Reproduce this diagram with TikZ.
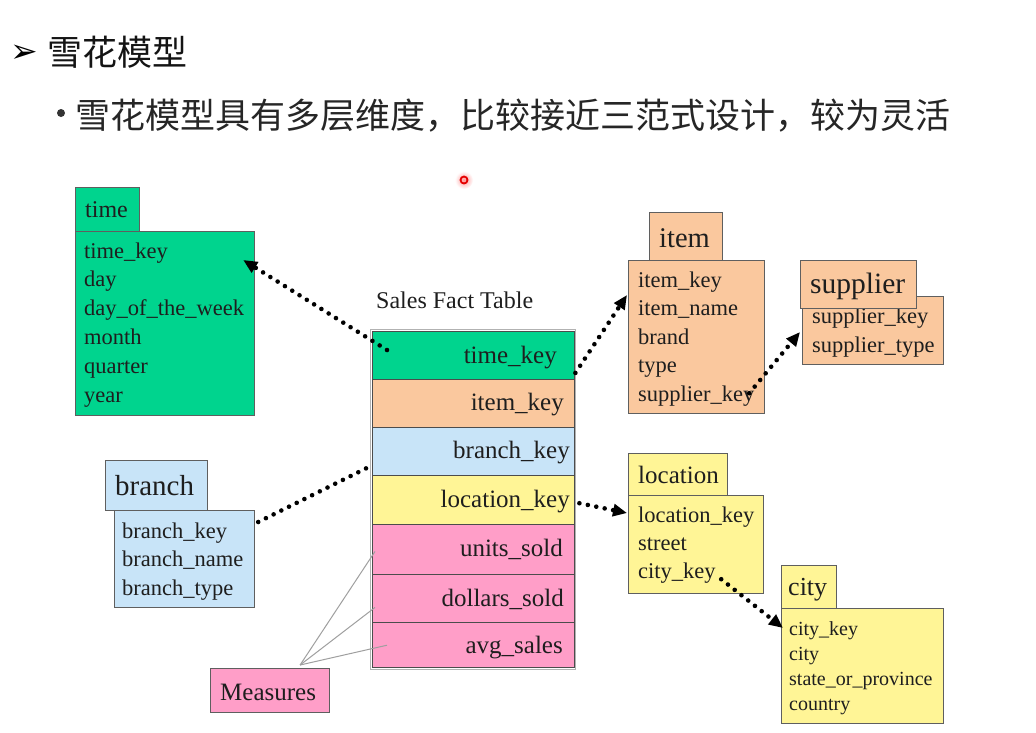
\documentclass[tikz,border=0pt]{standalone}
\usepackage{fontspec}
\setmainfont{Liberation Serif}
\newfontfamily\cjkfont{Noto Sans CJK SC}
\newfontfamily\symfont{DejaVu Sans}
\usetikzlibrary{arrows.meta}
\definecolor{grn}{RGB}{0,212,142}
\definecolor{peach}{RGB}{250,200,158}
\definecolor{lblue}{RGB}{200,228,248}
\definecolor{yel}{RGB}{255,245,150}
\definecolor{pnk}{RGB}{255,158,200}
\definecolor{bord}{RGB}{95,95,95}
\definecolor{txt}{RGB}{30,30,30}
\begin{document}
\begin{tikzpicture}[x=1pt,y=-1pt,
  tb/.style={draw=bord, line width=1.2pt, inner sep=0pt, anchor=north west},
  rowbox/.style={draw=bord!80!black, line width=1.4pt, inner sep=0pt, anchor=north west, minimum width=202pt},
  fld/.style={font={\fontsize{22.5}{27}\selectfont}, anchor=base west, inner sep=0pt, text=txt},
  sfld/.style={font={\fontsize{20}{24}\selectfont}, anchor=base west, inner sep=0pt, text=txt},
  hdr/.style={anchor=base west, inner sep=0pt, text=txt},
  ftx/.style={font={\fontsize{25}{30}\selectfont}, anchor=base east, inner sep=0pt, text=txt},
  dotarr/.style={line width=4.6pt, dash pattern=on 0pt off 8.6pt, line cap=round, -{Triangle[length=14pt,width=12pt]}},
  dotline/.style={line width=4.6pt, dash pattern=on 0pt off 8.6pt, line cap=round},
  meas/.style={draw=gray!75, line width=1pt}]
\useasboundingbox (0,0) rectangle (1036,732);
\fill[white] (0,0) rectangle (1036,732);

% title
\node[anchor=base west, inner sep=0pt, font={\symfont\fontsize{33}{33}\selectfont}] (arr) at (10,62) {➢};
\node[anchor=base west, inner sep=0pt, font={\cjkfont\fontsize{35}{35}\selectfont}, text=black!92] (title) at (47,65) {雪花模型};
\node[circle, fill=black!80, minimum size=8pt, inner sep=0pt] (bul) at (61,113) {};
\node[anchor=base west, inner sep=0pt, font={\cjkfont\fontsize{35}{35}\selectfont}, text=black!85] (sub) at (75,128) {雪花模型具有多层维度，比较接近三范式设计，较为灵活};

% cursor mark
\shade[inner color=red!40, outer color=white] (464,180) circle (9pt);
\node[circle, draw=red!90!black, line width=1.8pt, minimum size=7pt, inner sep=0pt] (cursor) at (464,180) {};

% time
\node[tb, fill=grn, minimum width=179pt, minimum height=184pt] (timeB) at (75,231) {};
\node[tb, fill=grn, minimum width=64pt, minimum height=44pt] (timeH) at (75,187) {};
\node[hdr, font={\fontsize{24}{24}\selectfont}] (timeT) at (85,217) {time};
\foreach \t [count=\i] in {time\_key,day,day\_of\_the\_week,month,quarter,year}
  \node[fld] (time-\i) at (84,{258+28.9*(\i-1)}) {\t};

% item
\node[tb, fill=peach, minimum width=136pt, minimum height=153pt] (itemB) at (628,260) {};
\node[tb, fill=peach, minimum width=73pt, minimum height=48pt] (itemH) at (649,212) {};
\node[hdr, font={\fontsize{28.5}{28.5}\selectfont}] (itemT) at (659,247) {item};
\foreach \t [count=\i] in {item\_key,item\_name,brand,type,supplier\_key}
  \node[fld] (item-\i) at (638,{287+28.5*(\i-1)}) {\t};

% supplier
\node[tb, fill=peach, minimum width=141pt, minimum height=68pt] (supB) at (802,296) {};
\node[fld] (sup-1) at (812,323) {supplier\_key};
\node[fld] (sup-2) at (812,352) {supplier\_type};
\node[tb, fill=peach, minimum width=116pt, minimum height=48pt] (supH) at (800,260) {};
\node[hdr, font={\fontsize{29.5}{29.5}\selectfont}] (supT) at (810,293) {supplier};

% location
\node[tb, fill=yel, minimum width=135pt, minimum height=98pt] (locB) at (628,495) {};
\node[tb, fill=yel, minimum width=99pt, minimum height=42pt] (locH) at (628,453) {};
\node[hdr, font={\fontsize{25}{25}\selectfont}] (locT) at (638,483) {location};
\foreach \t [count=\i] in {location\_key,street,city\_key}
  \node[fld] (loc-\i) at (638,{522+28*(\i-1)}) {\t};

% city
\node[tb, fill=yel, minimum width=162pt, minimum height=115pt] (cityB) at (781,608) {};
\node[tb, fill=yel, minimum width=55pt, minimum height=43pt] (cityH) at (781,565) {};
\node[hdr, font={\fontsize{26}{26}\selectfont}] (cityT) at (788,595) {city};
\foreach \t [count=\i] in {city\_key,city,state\_or\_province,country}
  \node[sfld] (city-\i) at (789,{635+25*(\i-1)}) {\t};

% branch
\node[tb, fill=lblue, minimum width=140pt, minimum height=97pt] (brB) at (114,510) {};
\node[tb, fill=lblue, minimum width=102pt, minimum height=50pt] (brH) at (105,460) {};
\node[hdr, font={\fontsize{29}{29}\selectfont}] (brT) at (115,495) {branch};
\foreach \t [count=\i] in {branch\_key,branch\_name,branch\_type}
  \node[fld] (br-\i) at (122,{538+28.5*(\i-1)}) {\t};

% measures
\node[tb, fill=pnk, minimum width=119pt, minimum height=44pt] (meas) at (210,668) {};
\node[hdr, font={\fontsize{25}{25}\selectfont}] (measT) at (220,700) {Measures};

% fact table
\node[hdr, font={\fontsize{24}{24}\selectfont}] (factT) at (376,308) {Sales Fact Table};
\node[tb, fill=white, draw=gray!60, minimum width=205pt, minimum height=340pt] (fact) at (370,329) {};
\node[rowbox, fill=grn, minimum height=47.5pt] (r1) at (372,331) {};
\node[rowbox, fill=peach, minimum height=48pt] (r2) at (372,378.5) {};
\node[rowbox, fill=lblue, minimum height=48.5pt] (r3) at (372,426.5) {};
\node[rowbox, fill=yel, minimum height=49pt] (r4) at (372,475) {};
\node[rowbox, fill=pnk, minimum height=49.5pt] (r5) at (372,524) {};
\node[rowbox, fill=pnk, minimum height=48.5pt] (r6) at (372,573.5) {};
\node[rowbox, fill=pnk, minimum height=45pt] (r7) at (372,622) {};
\node[ftx] (f1) at (557,363) {time\_key};
\node[ftx] (f2) at (564,410.5) {item\_key};
\node[ftx] (f3) at (570,458.5) {branch\_key};
\node[ftx] (f4) at (570,507.5) {location\_key};
\node[ftx] (f5) at (563,556.5) {units\_sold};
\node[ftx] (f6) at (564,606.5) {dollars\_sold};
\node[ftx] (f7) at (563,653) {avg\_sales};

% measures lines
\coordinate (mj) at ([shift={(30,-3)}]meas.north);
\draw[meas] (mj) -- ([shift={(3,2)}]r5.west);
\draw[meas] (mj) -- ([shift={(3,9)}]r6.west);
\draw[meas] (mj) -- ([shift={(15,0)}]r7.west);

% dotted connectors
\draw[dotarr] ([shift={(15,19)}]r1.north west) -- ([shift={(-12,29)}]timeB.north east);
\draw[dotarr] ([shift={(0,-7)}]r1.south east) -- ([shift={(-1,35)}]itemB.north west);
\draw[dotarr] ([shift={(-16,-21)}]itemB.south east) -- ([shift={(-2,36)}]supB.north west);
\draw[dotline] ([shift={(3,12)}]brB.north east) -- ([shift={(0,-11)}]r3.south west);
\draw[dotarr] ([shift={(4,3)}]r4.east) -- ([shift={(-1,18)}]locB.north west);
\draw[dotarr] ([shift={(-43,-15)}]locB.south east) -- ([shift={(2,20)}]cityB.north west);
\end{tikzpicture}
\end{document}
